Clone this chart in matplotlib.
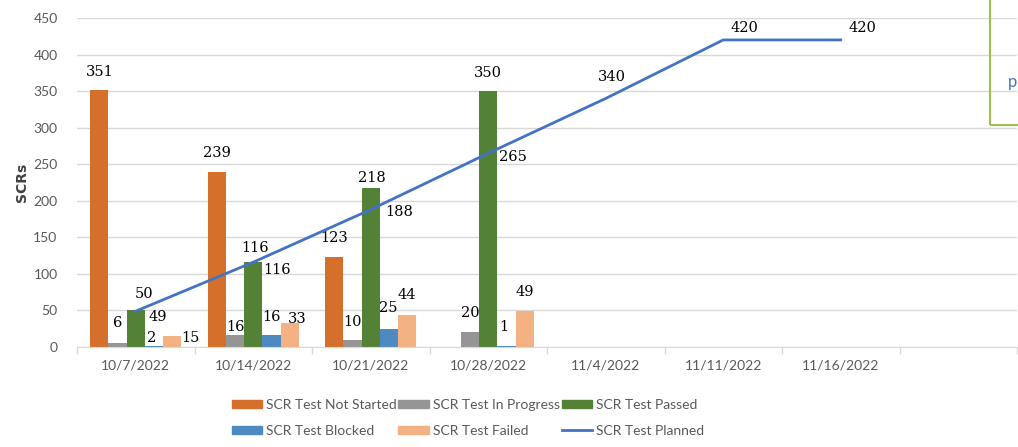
import numpy as np
import matplotlib.pyplot as plt
from matplotlib.patches import Patch, Rectangle
from matplotlib.lines import Line2D

# datos
fechas = ['10/7/2022', '10/14/2022', '10/21/2022', '10/28/2022',
          '11/4/2022', '11/11/2022', '11/16/2022', '']
no_iniciado = [351, 239, 123, None]
en_progreso = [6, 16, 10, 20]
aprobado = [50, 116, 218, 350]
bloqueado = [2, 16, 25, 1]
fallado = [15, 33, 44, 49]
planeado = [49, 116, 188, 265, 340, 420, 420]

nombres = ['SCR Test Not Started', 'SCR Test In Progress', 'SCR Test Passed',
           'SCR Test Blocked', 'SCR Test Failed', 'SCR Test Planned']
colores = ['#D4702C', '#959595', '#538135', '#4E8AC2', '#F4B183', '#4472C4']

# desplazamiento de etiquetas (pixeles) donde Excel las movio
ajustes = {
    (0, 0): (0, 18), (1, 0): (0, 20), (2, 0): (8, 16), (3, 0): (-2, 8), (4, 0): (18, -2),
    (0, 1): (0, 19), (1, 1): (0, 8), (2, 1): (2, 14), (3, 1): (0, 18), (4, 1): (8, 4),
    (0, 2): (0, 19), (1, 2): (0, 18), (2, 2): (1, 10), (3, 2): (-1, 21), (4, 2): (0, 20),
    (1, 3): (0, 19), (2, 3): (0, 18), (3, 3): (-3, 19), (4, 3): (0, 19),
}
ajustes_linea = [(22, -6), (24, -8), (28, -2), (25, -4), (6, 21), (21, 12), (22, 12)]

plt.rcParams['font.family'] = ['Lato', 'DejaVu Sans']
fig = plt.figure(figsize=(10.18, 4.47), dpi=100)
ax = fig.add_axes([77/1018, 100/447, 940/1018, 329/447])

series = [no_iniciado, en_progreso, aprobado, bloqueado, fallado]
ancho = 0.155
fuente_num = dict(family='DejaVu Serif', fontsize=10.5, color='black')

for k, valores in enumerate(series):
    vals = np.array([np.nan if v is None else v for v in valores], dtype=float)
    x = np.arange(len(vals)) + (k - 2) * ancho
    ax.bar(x, vals, width=ancho, color=colores[k], zorder=2)
    for i, v in enumerate(vals):
        if np.isnan(v):
            continue
        dx, dy = ajustes.get((k, i), (0, 19))
        ax.annotate(str(int(v)), (x[i], v), xytext=(dx, dy), textcoords='offset pixels',
                    ha='center', va='center', **fuente_num)

xp = np.arange(len(planeado))
ax.plot(xp, planeado, color=colores[5], lw=2, zorder=3)
for i, v in enumerate(planeado):
    dx, dy = ajustes_linea[i]
    ax.annotate(str(v), (xp[i], v), xytext=(dx, dy), textcoords='offset pixels',
                ha='center', va='center', **fuente_num)

ax.set_xlim(-0.5, len(fechas) - 0.5)
ax.set_ylim(0, 450)
ax.set_yticks(np.arange(0, 451, 50))
ax.set_xticks(np.arange(len(fechas)))
ax.set_xticklabels(fechas)
ax.set_xticks(np.arange(-0.5, len(fechas)), minor=True)
ax.tick_params(axis='x', which='major', length=0, pad=9, labelsize=10, labelcolor='#595959')
ax.tick_params(axis='x', which='minor', length=5, color='#D9D9D9', width=1)
ax.tick_params(axis='y', length=0, pad=14, labelsize=10, labelcolor='#595959')
ax.grid(axis='y', color='#D9D9D9', lw=1, zorder=0)
for s in ['top', 'right', 'left']:
    ax.spines[s].set_visible(False)
ax.spines['bottom'].set_color('#D9D9D9')
ax.set_ylabel('SCRs', fontsize=10, fontweight='bold', color='#404040', family='DejaVu Sans')
ax.yaxis.set_label_coords(-0.051, 0.5)

# leyenda en dos filas (orden por columnas para matplotlib)
h = [Patch(color=c) for c in colores[:5]] + [Line2D([], [], color=colores[5], lw=2)]
orden = [0, 3, 1, 4, 2, 5]
fig.legend([h[i] for i in orden], [nombres[i] for i in orden], ncol=3,
           loc='center', bbox_to_anchor=(468/1018, 29/447), frameon=False,
           fontsize=10, labelcolor='#595959', handlelength=2.2, handleheight=0.55,
           handletextpad=0.3, columnspacing=0.1, labelspacing=1.0)

# cuadro de texto recortado a la derecha
fig.patches.append(Rectangle((990/1018, 322/447), 0.1, 0.3, transform=fig.transFigure,
                             fill=False, ec='#9BC14F', lw=1.5))
fig.text(1008/1018, 365/447, 'p', color='#4472C4', fontsize=12, va='center')

fig.savefig('out.png', dpi=100)
